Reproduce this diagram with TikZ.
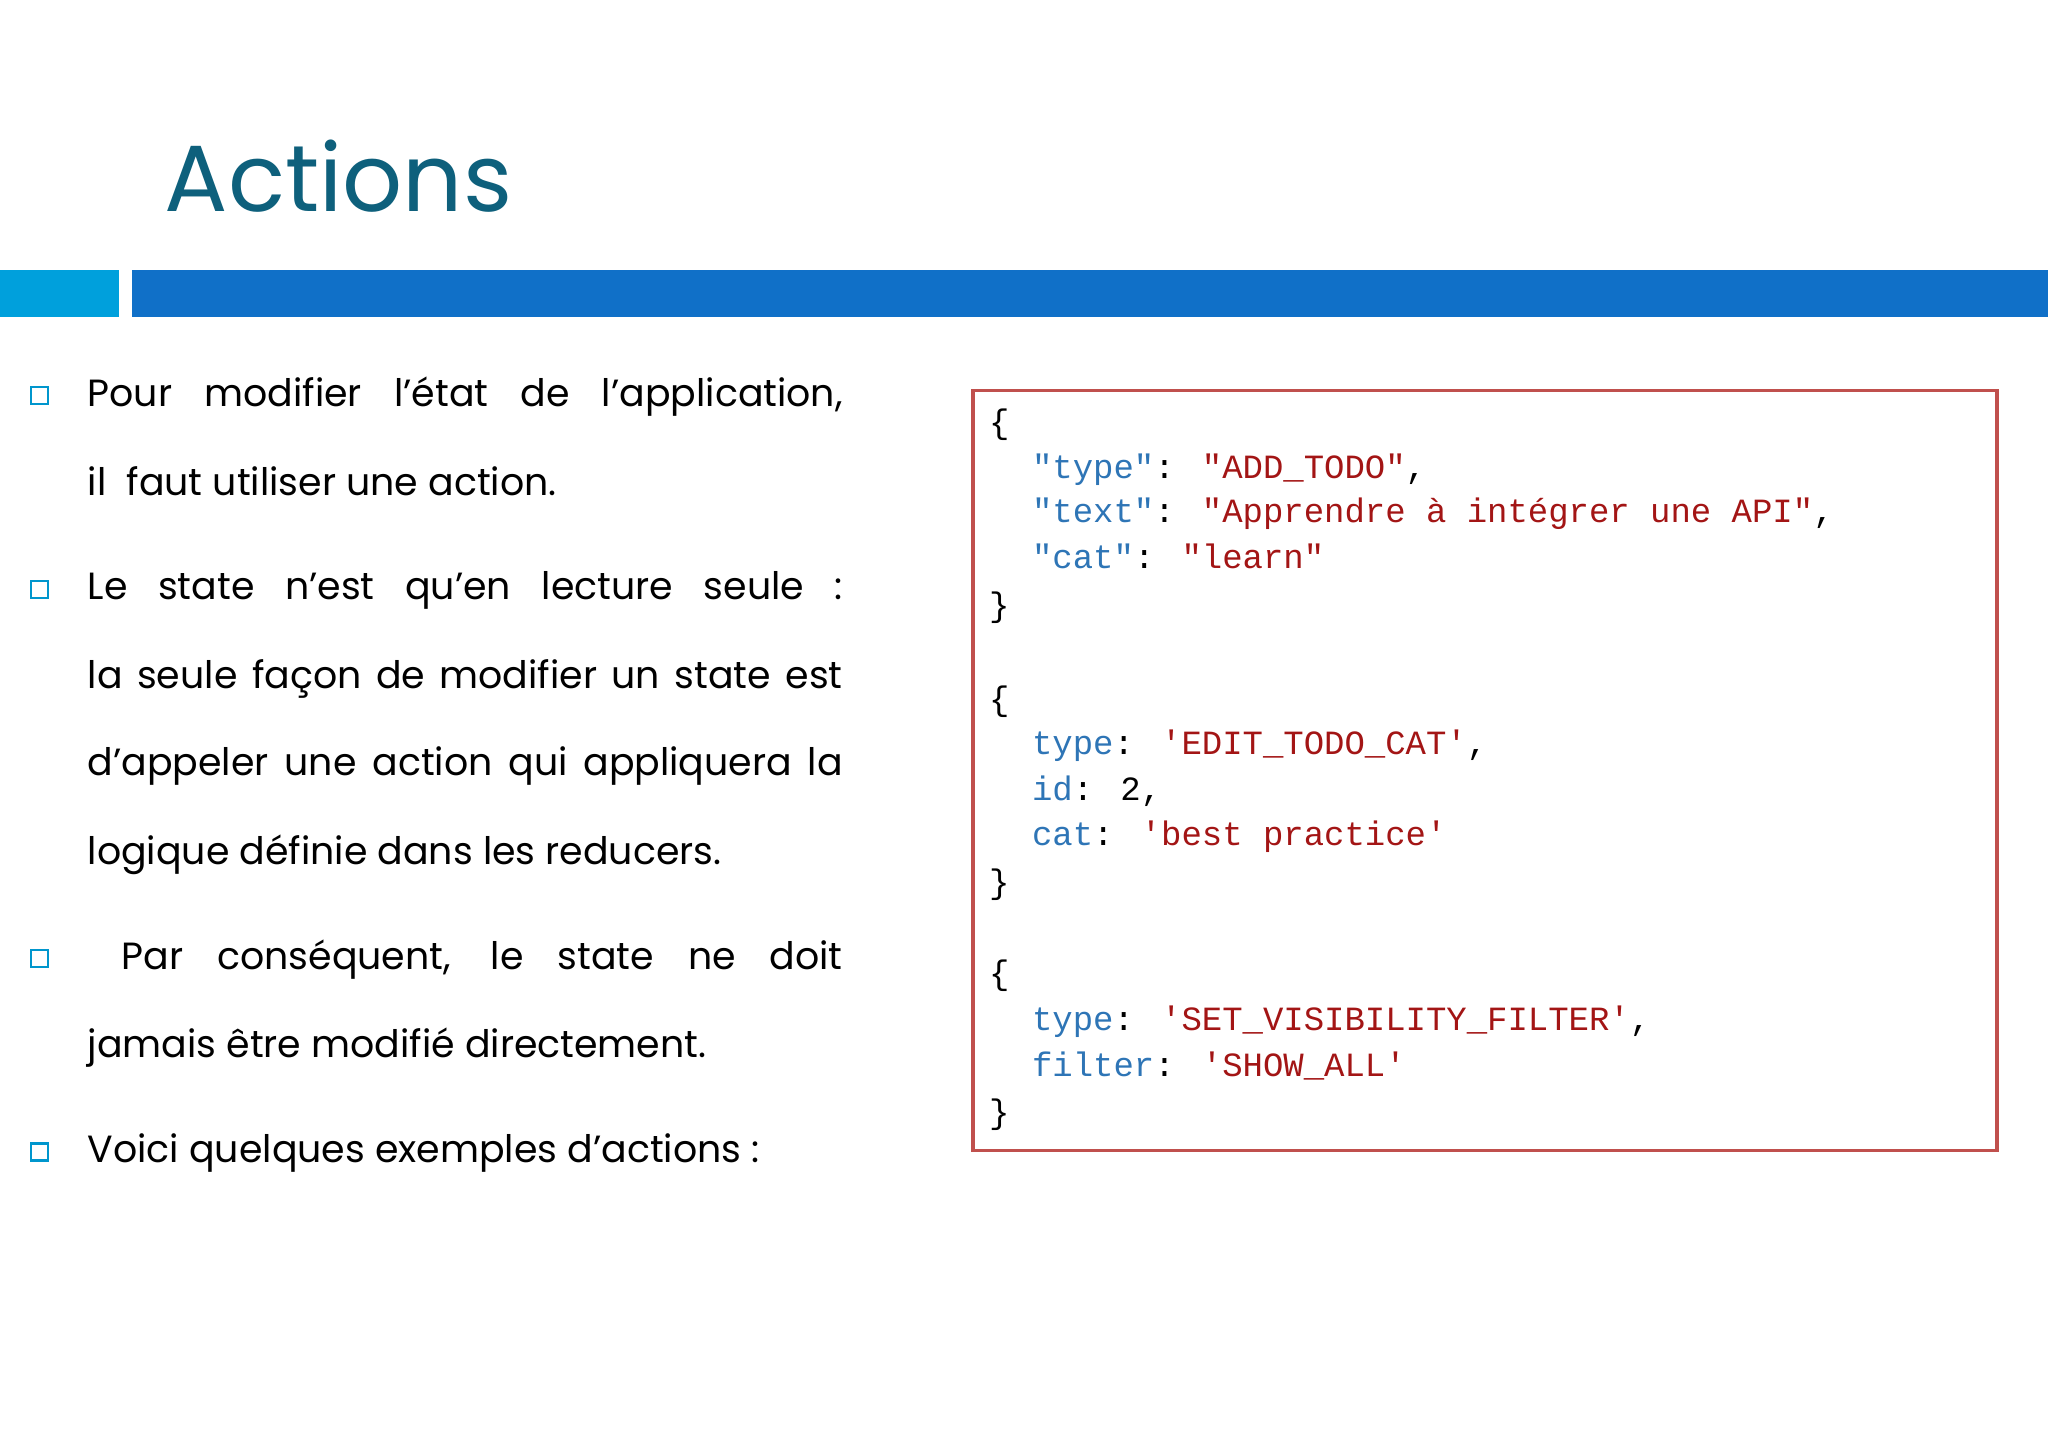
\documentclass[tikz,border=0pt]{standalone}
\usepackage{fontspec}
\setmainfont{Poppins}
\newfontfamily\codef{Liberation Mono}
\definecolor{ttl}{RGB}{14,96,124}
\definecolor{lbar}{RGB}{0,160,220}
\definecolor{mbar}{RGB}{16,112,200}
\definecolor{keyc}{RGB}{46,117,182}
\definecolor{strc}{RGB}{163,21,21}
\definecolor{boxc}{RGB}{192,80,77}
\definecolor{bul}{RGB}{0,150,205}
\tikzset{
 body/.style={anchor=base west,inner sep=0,font=\fontsize{29}{34}\selectfont},
 code/.style={anchor=base west,inner sep=0,font=\codef\fontsize{26}{30}\selectfont},
 bulsq/.style={draw=bul,line width=1.6pt,minimum size=13pt,inner sep=0}
}
\newcommand{\K}[1]{\textcolor{keyc}{#1}}
\newcommand{\Sx}[1]{\textcolor{strc}{#1}}
\newcommand{\J}[1]{\makebox[578pt][s]{#1}}
\begin{document}
\begin{tikzpicture}[x=1pt,y=-1pt]
\useasboundingbox (0,0) rectangle (1568,1108);
\fill[white] (0,0) rectangle (1568,1108);
\node[anchor=base west,inner sep=0,text=ttl,font=\fontsize{72}{80}\selectfont] (title) at (126,162) {Actions};
\fill[lbar] (0,207) rectangle (91,243);
\fill[mbar] (101,207) rectangle (1568,243);
% bullets
\node[bulsq] (b1) at (30,303) {};
\node[bulsq] (b2) at (30,451) {};
\node[bulsq] (b3) at (30,734) {};
\node[bulsq] (b4) at (30,882) {};
\node[body] (t1) at (67,311) {\J{Pour modifier l’état de l’application,}};
\node[body] (t2) at (67,379) {il\ \ faut utiliser une action.};
\node[body] (t3) at (67,459) {\J{Le state n'est qu'en lecture seule :}};
\node[body] (t4) at (67,527) {\J{la seule façon de modifier un state est}};
\node[body] (t5) at (67,594) {\J{d'appeler une action qui appliquera la}};
\node[body] (t6) at (67,662) {logique définie dans les reducers.};
\node[body] (t7) at (67,742) {\J{\ Par conséquent, le state ne doit}};
\node[body] (t8) at (67,810) {jamais être modifié directement.};
\node[body] (t9) at (67,890) {Voici quelques exemples d’actions :};
% code box
\draw[boxc,line width=2.5pt] (745,299) rectangle (1529,881);
\node[code] (c1) at (757,332) {\{};
\node[code] (c2) at (790,366) {\K{"type"}: \Sx{"ADD\_TODO"},};
\node[code] (c3) at (790,400) {\K{"text"}: \Sx{"Apprendre à intégrer une API"},};
\node[code] (c4) at (790,435) {\K{"cat"}: \Sx{"learn"}};
\node[code] (c5) at (757,472) {\}};
\node[code] (c6) at (757,544) {\{};
\node[code] (c7) at (790,578) {\K{type}: \Sx{'EDIT\_TODO\_CAT'},};
\node[code] (c8) at (790,613) {\K{id}: 2,};
\node[code] (c9) at (790,647) {\K{cat}: \Sx{'best practice'}};
\node[code] (c10) at (757,684) {\}};
\node[code] (c11) at (757,754) {\{};
\node[code] (c12) at (790,789) {\K{type}: \Sx{'SET\_VISIBILITY\_FILTER'},};
\node[code] (c13) at (790,824) {\K{filter}: \Sx{'SHOW\_ALL'}};
\node[code] (c14) at (757,860) {\}};
\end{tikzpicture}
\end{document}
